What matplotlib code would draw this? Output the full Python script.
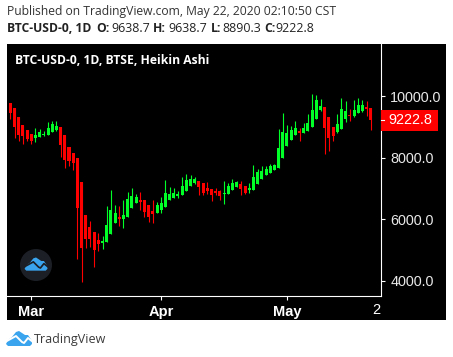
import matplotlib
matplotlib.use("Agg")
import matplotlib.pyplot as plt
from matplotlib.patches import Circle, Polygon, Rectangle

# Heikin Ashi candles, Feb 25 - May 21
opens = [9781, 9617, 9323, 9062, 8898, 8767, 8636, 8669, 8734, 8734, 8833, 8898,
         8996, 8734, 8342, 8146, 7982, 7197, 6151, 5759, 5595, 5334, 5236, 5268, 5530,
         5890, 6053, 6020, 6086, 6348, 6512, 6610, 6610, 6447, 6250, 6185, 6283, 6381,
         6610, 6675, 6741, 6773, 6904, 7068, 7166, 7231, 7166, 7002, 6970, 6904, 6904,
         6806, 6806, 6937, 7035, 7133, 7068, 6937, 6936, 7132, 7296, 7427, 7492, 7590,
         7655, 7982, 8375, 8571, 8734, 8865, 8800, 8865, 8996, 9258, 9552, 9650, 9323,
         8996, 8833, 8931, 9258, 9389, 9356, 9454, 9519, 9650, 9638.7]
closes = [9454, 8996, 8734, 8702, 8604, 8538, 8734, 8833, 8767, 8963, 9094, 9029,
          8407, 7917, 7884, 7819, 6347, 5072, 5366, 5366, 5007, 5203, 5301, 5824, 6282,
          6184, 6020, 6151, 6642, 6741, 6708, 6545, 6218, 6054, 6152, 6447, 6512, 6839,
          6806, 6839, 6806, 7068, 7264, 7297, 7297, 7035, 6839, 6904, 6773, 6839, 6741,
          6839, 7068, 7166, 7199, 6970, 6839, 7002, 7361, 7525, 7557, 7623, 7721, 7753,
          8309, 8833, 8800, 8898, 8963, 8800, 8963, 9127, 9552, 9879, 9683, 8963, 8636,
          8702, 9094, 9585, 9519, 9356, 9552, 9715, 9715, 9585, 9222.8]
highs = [9781, 9617, 9323, 9062, 8898, 8767, 8963, 8931, 8865, 9160, 9192, 9192,
         8996, 8734, 8342, 8146, 7982, 7197, 6151, 5955, 5595, 5563, 5464, 6413, 6936,
         6446, 6413, 6609, 6871, 7002, 6806, 6872, 6610, 6447, 6610, 6545, 6708, 7264,
         7035, 7002, 6904, 7362, 7460, 7427, 7362, 7231, 7166, 7199, 6970, 7002, 6937,
         7231, 7166, 7297, 7231, 7231, 7068, 7166, 7753, 7623, 7721, 7721, 7786, 7786,
         8931, 9454, 9061, 9029, 9192, 8963, 9127, 9421, 10075, 10042, 9912, 9650, 9323,
         8996, 9421, 9944, 9846, 9585, 9879, 9944, 9879, 9846, 9638.7]
lows = [9258, 8636, 8538, 8440, 8538, 8440, 8506, 8669, 8702, 8734, 8833, 8865,
        8015, 7655, 7721, 7590, 4712, 3960, 5072, 5105, 4451, 4974, 5039, 5268, 5530,
        5890, 5791, 5726, 6086, 6348, 6512, 6283, 6054, 5891, 5858, 6185, 6185, 6381,
        6610, 6675, 6675, 6773, 6904, 7068, 7133, 6773, 6773, 6806, 6577, 6773, 6610,
        6479, 6806, 6937, 7035, 6773, 6806, 6839, 6936, 7132, 7296, 7427, 7492, 7590,
        7655, 7982, 8375, 8571, 8734, 8538, 8800, 8865, 8996, 9258, 9519, 8113, 8211,
        8538, 8800, 8931, 9160, 9192, 9323, 9454, 9487, 9356, 8890.3]

price_ticks = [4000, 6000, 8000, 10000]
month_pos = [5, 36, 66]
month_labels = ["Mar", "Apr", "May"]
last_price = 9222.8

GREEN = "#00ff26"
RED = "#ff0000"
W, H = 453, 357

fig = plt.figure(figsize=(W / 100, H / 100), dpi=100, facecolor="white")

# overlay in pixel coordinates for the black panel and header
bg = fig.add_axes([0, 0, 1, 1])
bg.set_xlim(0, W)
bg.set_ylim(H, 0)
bg.axis("off")
bg.add_patch(Rectangle((7, 44), 439, 276, color="black", lw=0))

ax = fig.add_axes([7 / W, (H - 296.3) / H, 374.3 / W, 252.3 / H], facecolor="black")
ax.set_xlim(-0.79, 88.5)
ax.set_ylim(3485, 11709)

for i in range(len(opens)):
    col = GREEN if closes[i] >= opens[i] else RED
    ax.plot([i, i], [lows[i], highs[i]], color=col, lw=0.8, solid_capstyle="butt", zorder=2, snap=True)
    bottom = min(opens[i], closes[i])
    ax.bar(i, max(abs(closes[i] - opens[i]), 35), bottom=bottom, width=0.72, color=col, lw=0, zorder=3)

for s in ["top", "left"]:
    ax.spines[s].set_visible(False)
for s in ["bottom", "right"]:
    ax.spines[s].set_color("white")
    ax.spines[s].set_linewidth(0.8)

ax.yaxis.tick_right()
ax.set_yticks(price_ticks)
ax.set_yticklabels([f"{p:.1f}" for p in price_ticks], fontsize=10.4, family="Liberation Sans")
ax.set_xticks(month_pos)
ax.set_xticklabels(month_labels, color="white", fontsize=10.5, fontweight="bold",
                   family="Liberation Sans")
ax.tick_params(axis="y", colors="white", length=3, width=0.8, pad=3.5, labelcolor="#e8e8e8")
ax.tick_params(axis="x", colors="white", length=3, width=0.8, pad=3.5)

# current price tag
trans = ax.get_yaxis_transform()
ax.add_patch(Rectangle((1, last_price - 343), 57 / 374.3, 686, transform=trans, color=RED,
                       lw=0, clip_on=False, zorder=5))
ax.plot([1, 1 + 3 / 374.3], [last_price, last_price], transform=trans, color="white", lw=0.8,
        clip_on=False, zorder=6)
ax.text(1 + 7.5 / 374.3, last_price, f"{last_price:.1f}", transform=trans, color="white",
        fontsize=10.4, family="Liberation Sans", va="center", ha="left", zorder=7)

# truncated date label at the right edge
fig.text(376 / W, 1 - 310 / H, "2", color="white", fontsize=10.5, family="Liberation Sans",
         ha="center", va="center")

# header
bg.text(7, 12, "Published on TradingView.com, May 22, 2020 02:10:50 CST", fontsize=8.78,
        family="Open Sans", color="#333333", va="center", ha="left")
head = [(7, "BTC-USD-0, 1D", True), (96, "O:", True), (111, "9638.7", False), (153, "H:", True),
        (168, "9638.7", False), (211, "L:", True), (222, "8890.3", False), (264, "C:", True),
        (275, "9222.8", False)]
for x, s, b in head:
    bg.text(x, 29, s, fontsize=8.9 if not b else 8.7, family="Open Sans", color="#222222",
            va="center", ha="left", fontweight="bold" if b else "normal")


def cloud(over, cx, cy, scale, line_col):
    pts = [(-13, 5), (-11, 1), (-7, -2), (-3, -7), (0, -8), (3, -6), (6, -4), (9, -4), (11, -1),
           (13, 2), (13, 5), (11, 7), (-11, 7)]
    over.add_patch(Polygon([(cx + a * scale, cy + b * scale) for a, b in pts], color="#3aa5ee", lw=0, zorder=12))
    line = [(-14, 3), (-3, -3), (3, 3), (5, 4), (9, -1), (14, 3)]
    over.plot([cx + a * scale for a, b in line], [cy + b * scale for a, b in line], color=line_col,
              lw=1.4 * scale, zorder=13)


# top layer: legend title and logos
top = fig.add_axes([0, 0, 1, 1], facecolor="none")
top.set_xlim(0, W)
top.set_ylim(H, 0)
top.axis("off")
top.text(15, 61, "BTC-USD-0, 1D, BTSE, Heikin Ashi", fontsize=8.75, family="Open Sans", color="white",
         fontweight="bold", va="center", ha="left", zorder=10)
top.add_patch(Circle((36, 265), 16, color="#1c1f26", lw=0, zorder=11))
cloud(top, 36, 264.5, 0.88, "#1c1f26")
cloud(top, 19, 339, 1.0, "white")
top.text(34, 339, "TradingView", fontsize=9.0, family="Open Sans", color="#3a3a3a", va="center", ha="left")

fig.savefig("out.png", dpi=100, facecolor="white")
